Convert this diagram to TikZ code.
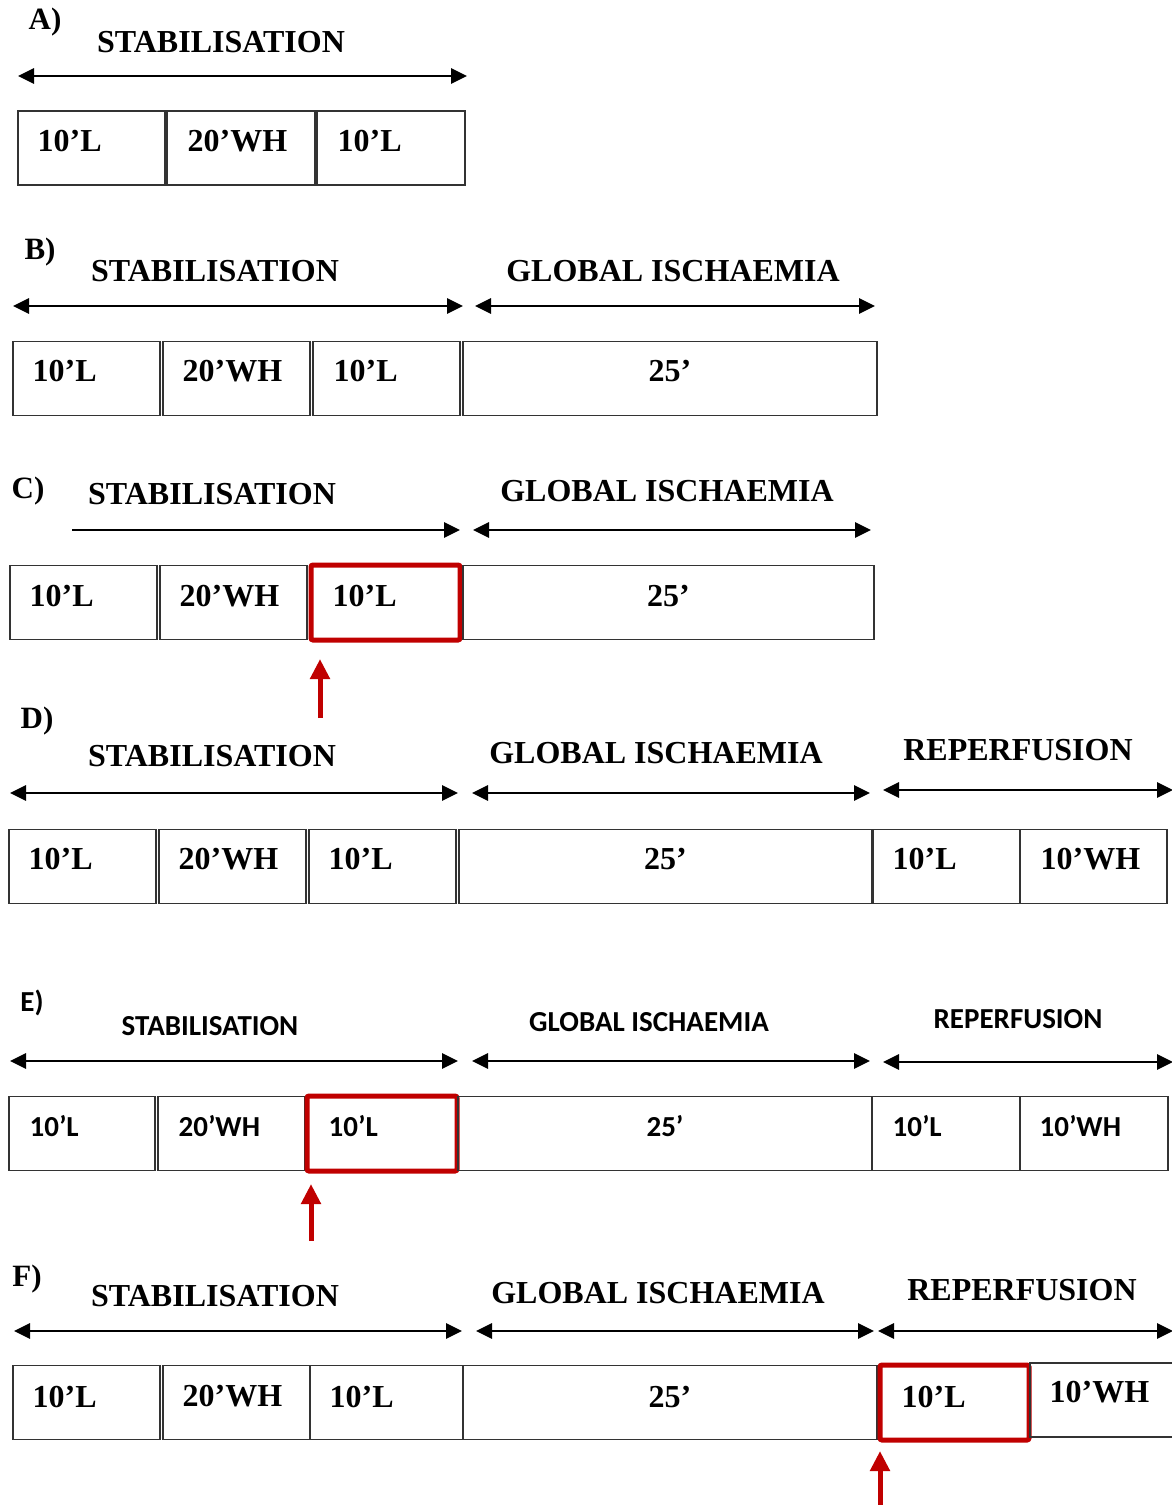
\documentclass[tikz,border=0pt]{standalone}
\usepackage{fontspec}
\setmainfont{Liberation Serif}
\newfontfamily\calibrifont{Carlito}
\usetikzlibrary{arrows.meta}

\definecolor{hlred}{HTML}{C00000}
\definecolor{cellborder}{HTML}{333333}

\newcommand{\serifbig}{\fontsize{32}{38}\selectfont\bfseries}
\newcommand{\seriftag}{\fontsize{31}{36}\selectfont\bfseries}
\newcommand{\sansbig}{\calibrifont\fontsize{29}{35}\selectfont\bfseries}

\begin{document}
\begin{tikzpicture}[
    x=1pt, y=-1pt,
    head/.style={font=\serifbig, inner sep=0pt},
    tag/.style={font=\seriftag, inner sep=0pt},
    val/.style={font=\serifbig, inner sep=0pt},
    cell/.style={rectangle, draw=cellborder, line width=1.2pt,
                 minimum height=74pt, inner sep=0pt},
    hl/.style={rectangle, draw=hlred, line width=5pt, rounded corners=2pt,
               minimum height=75pt, inner sep=0pt},
    span/.style={{Triangle[length=16pt,width=15pt]}-{Triangle[length=16pt,width=15pt]},
                 line width=2.8pt},
    onlyright/.style={-{Triangle[length=16pt,width=15pt]}, line width=2.8pt},
    pointer/.style={-{Triangle[length=20pt,width=19pt]}, draw=hlred,
                    line width=5pt},
]
\useasboundingbox (0,0) rectangle (1171,1505);

% === A) ===
\node[tag] (a-tag) at (45,22) {A)};
\node[head] (a-stab) at (221,42) {STABILISATION};
\coordinate (a-s0) at (18,76);
\coordinate (a-s1) at (467,76);
\draw[span] (a-s0) -- (a-s1);
\def\ymid{148}
\foreach \n/\xl/\xr/\txt/\st/\anc/\dx in {
    a1/18/165/10’L/cell/west/20, a2/167/315/20’WH/cell/west/21,
    a3/317/465/10’L/cell/west/21} {
    \node[\st, minimum width={(\xr-\xl)*1pt}] (\n) at ({(\xl+\xr)/2},\ymid) {};
    \node[val, anchor=\anc] (\n-t) at ([xshift=\dx pt, yshift=7pt]\n.\anc) {\txt};
}

% === B) ===
\node[tag] (b-tag) at (40,252) {B)};
\node[head] (b-stab) at (215,271) {STABILISATION};
\node[head] (b-isch) at (673,271) {GLOBAL ISCHAEMIA};
\coordinate (b-s0) at (13,306);
\coordinate (b-s1) at (463,306);
\coordinate (b-i0) at (475,306);
\coordinate (b-i1) at (875,306);
\draw[span] (b-s0) -- (b-s1);
\draw[span] (b-i0) -- (b-i1);
\def\ymid{378.5}
\foreach \n/\xl/\xr/\txt/\st/\anc/\dx in {
    b1/13/160/10’L/cell/west/20, b2/163/310/20’WH/cell/west/20,
    b3/313/460/10’L/cell/west/21, b4/463/877/25’/cell/center/0} {
    \node[\st, minimum width={(\xr-\xl)*1pt}] (\n) at ({(\xl+\xr)/2},\ymid) {};
    \node[val, anchor=\anc] (\n-t) at ([xshift=\dx pt, yshift=7pt]\n.\anc) {\txt};
}

% === C) ===
\node[tag] (c-tag) at (28,491) {C)};
\node[head] (c-stab) at (212,494) {STABILISATION};
\node[head] (c-isch) at (667,491) {GLOBAL ISCHAEMIA};
\coordinate (c-s0) at (72,530);
\coordinate (c-s1) at (460,530);
\coordinate (c-i0) at (473,530);
\coordinate (c-i1) at (871,530);
\draw[onlyright] (c-s0) -- (c-s1);
\draw[span] (c-i0) -- (c-i1);
\def\ymid{602.5}
\foreach \n/\xl/\xr/\txt/\st/\anc/\dx in {
    c1/10/157/10’L/cell/west/20, c2/160/307/20’WH/cell/west/20,
    c3/311/460/10’L/hl/west/24, c4/463/874/25’/cell/center/0} {
    \node[\st, minimum width={(\xr-\xl)*1pt}] (\n) at ({(\xl+\xr)/2},\ymid) {};
    \node[val, anchor=\anc] (\n-t) at ([xshift=\dx pt, yshift=6pt]\n.\anc) {\txt};
}
\coordinate (c-p0) at (320,718);
\coordinate (c-p1) at (320,659);
\draw[pointer] (c-p0) -- (c-p1);

% === D) ===
\node[tag] (d-tag) at (37,721) {D)};
\node[head] (d-stab) at (212,756) {STABILISATION};
\node[head] (d-isch) at (656,753) {GLOBAL ISCHAEMIA};
\node[head] (d-rep) at (1018,750) {REPERFUSION};
\coordinate (d-s0) at (10,793);
\coordinate (d-s1) at (458,793);
\coordinate (d-i0) at (472,793);
\coordinate (d-i1) at (870,793);
\coordinate (d-r0) at (883,790);
\coordinate (d-r1) at (1173,790);
\draw[span] (d-s0) -- (d-s1);
\draw[span] (d-i0) -- (d-i1);
\draw[span] (d-r0) -- (d-r1);
\def\ymid{866.5}
\foreach \n/\xl/\xr/\txt/\st/\anc/\dx in {
    d1/9/156/10’L/cell/west/20, d2/159/306/20’WH/cell/west/20,
    d3/309/456/10’L/cell/west/20, d4/459/872/25’/cell/center/0,
    d5/873/1020/10’L/cell/west/20, d6/1020/1167/10’WH/cell/west/21} {
    \node[\st, minimum width={(\xr-\xl)*1pt}] (\n) at ({(\xl+\xr)/2},\ymid) {};
    \node[val, anchor=\anc] (\n-t) at ([xshift=\dx pt, yshift=7pt]\n.\anc) {\txt};
}

% === E) (set in Calibri) ===
\begin{scope}[
    head/.style={font=\sansbig, inner sep=0pt},
    tag/.style={font=\sansbig, inner sep=0pt},
    val/.style={font=\sansbig, inner sep=0pt},
]
\node[tag] (e-tag) at (32,1003) {E)};
\node[head] (e-stab) at (210,1026) {STABILISATION};
\node[head] (e-isch) at (649,1022) {GLOBAL ISCHAEMIA};
\node[head] (e-rep) at (1018,1019) {REPERFUSION};
\coordinate (e-s0) at (10,1061);
\coordinate (e-s1) at (458,1061);
\coordinate (e-i0) at (472,1061);
\coordinate (e-i1) at (870,1061);
\coordinate (e-r0) at (883,1062);
\coordinate (e-r1) at (1173,1062);
\draw[span] (e-s0) -- (e-s1);
\draw[span] (e-i0) -- (e-i1);
\draw[span] (e-r0) -- (e-r1);
\def\ymid{1133.5}
\foreach \n/\xl/\xr/\txt/\st/\anc/\dx in {
    e1/9/155/10’L/cell/west/21, e2/158/305/20’WH/cell/west/21,
    e3/307/457/10’L/hl/west/24, e4/458/872/25’/cell/center/0,
    e5/872/1020/10’L/cell/west/21, e6/1020/1168/10’WH/cell/west/20} {
    \node[\st, minimum width={(\xr-\xl)*1pt}] (\n) at ({(\xl+\xr)/2},\ymid) {};
    \node[val, anchor=\anc] (\n-t) at ([xshift=\dx pt, yshift=7pt]\n.\anc) {\txt};
}
\coordinate (e-p0) at (311,1241);
\coordinate (e-p1) at (311,1184);
\draw[pointer] (e-p0) -- (e-p1);
\end{scope}

% === F) ===
\node[tag] (f-tag) at (27,1279) {F)};
\node[head] (f-stab) at (215,1296) {STABILISATION};
\node[head] (f-isch) at (658,1293) {GLOBAL ISCHAEMIA};
\node[head] (f-rep) at (1022,1290) {REPERFUSION};
\coordinate (f-s0) at (14,1331);
\coordinate (f-s1) at (462,1331);
\coordinate (f-i0) at (476,1331);
\coordinate (f-i1) at (874,1331);
\coordinate (f-r0) at (878,1331);
\coordinate (f-r1) at (1173,1331);
\draw[span] (f-s0) -- (f-s1);
\draw[span] (f-i0) -- (f-i1);
\draw[span] (f-r0) -- (f-r1);
\def\ymid{1402.5}
\foreach \n/\xl/\xr/\txt/\st/\anc/\dx in {
    f1/13/160/10’L/cell/west/20, f2/163/310/20’WH/cell/west/20,
    f3/310/463/10’L/cell/west/20, f4/463/877/25’/cell/center/0,
    f5/880/1029/10’L/hl/west/24} {
    \node[\st, minimum width={(\xr-\xl)*1pt}] (\n) at ({(\xl+\xr)/2},\ymid) {};
    \node[val, anchor=\anc] (\n-t) at ([xshift=\dx pt, yshift=6pt]\n.\anc) {\txt};
}
% last cell runs past the right edge
\node[cell, minimum width=150pt] (f6) at (1105,1400) {};
\node[val, anchor=west] (f6-t) at ([xshift=20pt, yshift=8pt]f6.west) {10’WH};
\coordinate (f-p0) at (880,1507);
\coordinate (f-p1) at (880,1451);
\draw[pointer] (f-p0) -- (f-p1);

\end{tikzpicture}
\end{document}
